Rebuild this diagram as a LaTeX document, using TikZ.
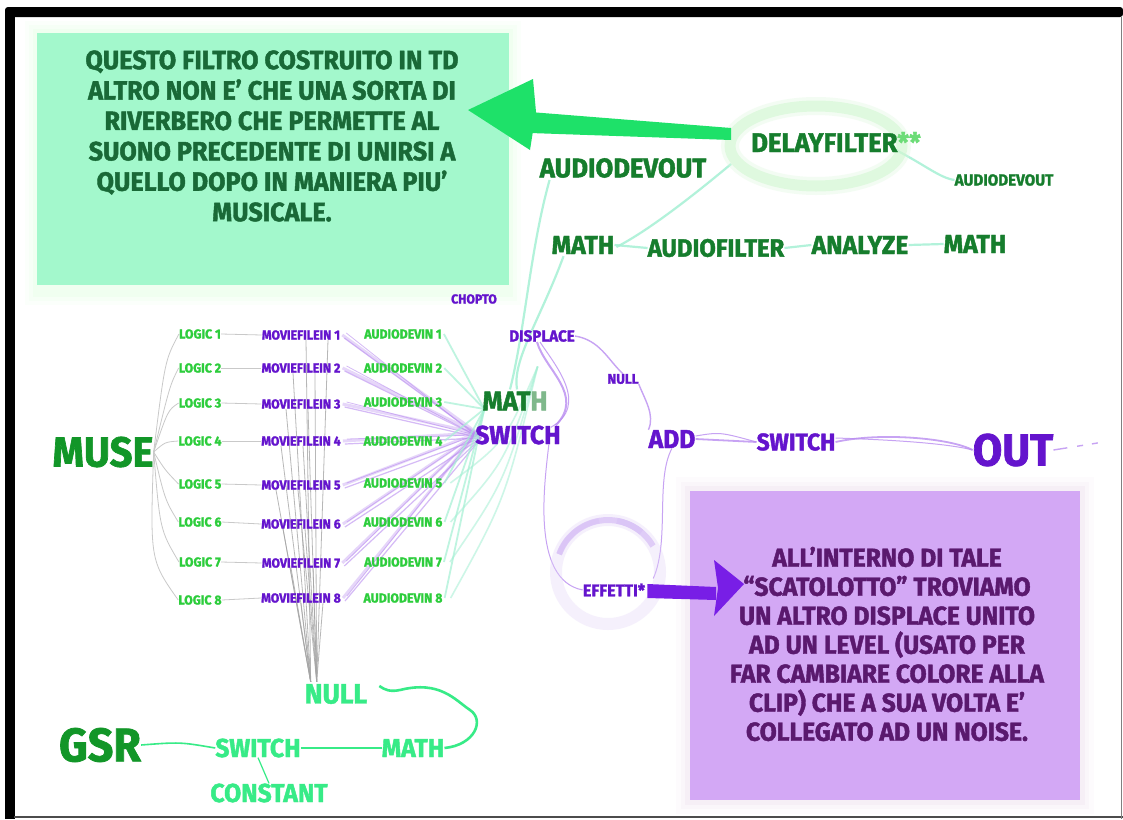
\documentclass[tikz,border=0pt]{standalone}
\usepackage{fontspec}
\newfontfamily\lab{Fira Sans}[FakeStretch=0.95, BoldFeatures={FakeBold=1.6}]
\usetikzlibrary{calc}
\pgfdeclarelayer{back}
\pgfdeclarelayer{wires}
\pgfsetlayers{back,wires,main}

\definecolor{dkgreen}{RGB}{22,125,45}
\definecolor{musegreen}{RGB}{18,150,40}
\definecolor{ltgreen}{RGB}{45,205,60}
\definecolor{mintt}{RGB}{55,235,135}
\definecolor{vio}{RGB}{100,20,205}
\definecolor{boxgreen}{RGB}{163,248,204}
\definecolor{boxvio}{RGB}{211,168,245}
\definecolor{boxtext}{RGB}{90,25,110}
\definecolor{boxgtext}{RGB}{25,105,55}
\definecolor{wiremint}{RGB}{165,240,212}
\definecolor{wirevio}{RGB}{185,140,240}
\definecolor{wiregray}{RGB}{165,165,165}
\definecolor{arrowgreen}{RGB}{30,225,105}
\definecolor{arrowvio}{RGB}{120,30,230}
\definecolor{ringgreen}{RGB}{200,245,200}
\definecolor{ringvio}{RGB}{212,186,245}

\tikzset{
  t/.style 2 args={inner sep=0pt, text=#1, font=\lab\bfseries\fontsize{#2}{#2}\selectfont},
  mintwire/.style={draw=wiremint, line width=2.2pt, opacity=0.85},
  viowire/.style={draw=wirevio, line width=1.4pt, opacity=0.8},
  graywire/.style={draw=wiregray, line width=0.8pt, opacity=0.8},
  lightgray/.style={draw=wiregray!60, line width=0.8pt},
  brightwire/.style={draw=mintt, line width=2pt},
}

\begin{document}
\begin{tikzpicture}[x=1pt,y=-1pt]
\useasboundingbox (0,0) rectangle (1123,819);

% ---------- explanatory boxes ----------
\begin{pgfonlayer}{back}
  \fill[white] (0,0) rectangle (1123,819);
  \foreach \g/\o in {12/0.04,8/0.06,4/0.08}
    \fill[green!30, opacity=\o] (37-\g,33-\g) rectangle (509+\g,285+\g+8);
  \fill[boxgreen] (37,33) rectangle (509,285);
  \foreach \g/\o in {14/0.03,9/0.05,5/0.07}
    \fill[violet!40, opacity=\o] (690-\g,491-\g) rectangle (1080+\g,800+\g);
  \fill[boxvio] (690,491) rectangle (1080,800);
\end{pgfonlayer}

\node[t={boxgtext}{26}, align=center, font=\lab\bfseries\fontsize{26.5}{30.4}\selectfont] (note1) at (272,136)
  {QUESTO FILTRO COSTRUITO IN TD\\ALTRO NON E’ CHE UNA SORTA DI\\RIVERBERO CHE PERMETTE AL\\SUONO PRECEDENTE DI UNIRSI A\\QUELLO DOPO IN MANIERA PIU’\\MUSICALE.};
\node[t={boxtext}{26}, align=center, font=\lab\bfseries\fontsize{26}{29}\selectfont] (note2) at (887,644)
  {ALL’INTERNO DI TALE\\“SCATOLOTTO” TROVIAMO\\UN ALTRO DISPLACE UNITO\\AD UN LEVEL (USATO PER\\FAR CAMBIARE COLORE ALLA\\CLIP) CHE A SUA VOLTA E’\\COLLEGATO AD UN NOISE.};

% ---------- audio chain (top) ----------
\node[t={dkgreen}{27}] (delay) at (836,142) {DELAYFILTER{\color{ltgreen!70}**}};
\node[t={dkgreen}{27}] (devoutA) at (623,168) {AUDIODEVOUT};
\node[t={dkgreen}{16}] (devoutB) at (1004,180) {AUDIODEVOUT};
\node[t={dkgreen}{26}] (mathA) at (583,245) {MATH};
\node[t={dkgreen}{25}] (afilter) at (716,248) {AUDIOFILTER};
\node[t={dkgreen}{26}] (analyze) at (860,245) {ANALYZE};
\node[t={dkgreen}{26}] (mathB) at (975,244) {MATH};

% ---------- video chain ----------
\node[t={vio}{13}] (chop) at (474,299) {CHOPTO};
\node[t={vio}{16}] (displace) at (542,336) {DISPLACE};
\node[t={vio}{14}] (nullA) at (623,379) {NULL};
\node[t={dkgreen}{27}] (mathS) at (515,401) {MAT{\color{dkgreen!55}H}};
\node[t={vio}{26}] (switchS) at (518,435) {SWITCH};
\node[t={vio}{26}] (add) at (672,439) {ADD};
\node[t={vio}{24}] (switchB) at (796,442) {SWITCH};
\node[t={vio}{45}] (out) at (1013,450) {OUT};
\node[t={vio}{17}] (effetti) at (614,590) {EFFETTI*};
\coordinate (outend) at (1110,441);

% ---------- inputs ----------
\node[t={musegreen}{42}] (muse) at (103,452) {MUSE};
\foreach \i/\yl/\ym/\ya in {1/334/335/334, 2/368/368/368, 3/403/404/402, 4/441/441/441,
                            5/484/485/483, 6/522/524/522, 7/562/563/562, 8/600/598/598} {
  \node[t={ltgreen}{13}] (logic\i) at (200,\yl) {LOGIC \i};
  \node[t={vio}{13}] (movie\i) at (301,\ym) {MOVIEFILEIN \i};
  \node[t={ltgreen}{13}] (adin\i) at (403,\ya) {AUDIODEVIN \i};
}

% ---------- GSR chain ----------
\node[t={mintt}{28}] (nullB) at (336,694) {NULL};
\node[t={musegreen}{47}] (gsr) at (100,745) {GSR};
\node[t={mintt}{26}] (switchG) at (258,748) {SWITCH};
\node[t={mintt}{26}] (mathG) at (413,748) {MATH};
\node[t={mintt}{26}] (const) at (269,793) {CONSTANT};

% ---------- connectors ----------
\begin{pgfonlayer}{wires}
  % MUSE fan-out to the logic operators
  \foreach \i/\cx/\cy in {1/165/360,2/170/385,3/168/410,4/165/442,5/165/470,6/165/500,7/160/530,8/150/560}
    \draw[lightgray] (muse.east) .. controls (\cx,\cy) .. (logic\i.west);
  % logic -> movie file in
  \foreach \i in {1,...,8}
    \draw[lightgray] (logic\i.east) -- (movie\i.west);
  % movie file in -> null (gray bundle)
  \foreach \i/\dx in {1/5,2/-8,3/-15,4/-20,5/-25,6/-18,7/-10,8/0} {
    \draw[graywire] ($(movie\i.south)+(\dx,0)$) -- ($(nullB.north west)+(6,-2)$);
    \draw[graywire] ($(movie\i.south)+(\dx+22,0)$) -- ($(nullB.north west)+(12,-2)$);
  }
  % movie file in -> switch (purple bundle)
  \foreach \i in {1,...,8} {
    \draw[viowire, line width=3pt, opacity=0.35] ($(movie\i.east)+(2,0)$) -- ($(switchS.west)+(2,-2)$);
    \draw[viowire, line width=1.2pt, opacity=0.6] ($(movie\i.east)+(4,3)$) -- ($(switchS.west)+(6,3)$);
    \draw[viowire, line width=0.8pt, opacity=0.6] ($(movie\i.east)+(6,-2)$) -- ($(switchS.west)+(0,0)$);
  }
  % audio device in -> math (mint bundle)
  \foreach \i in {1,...,8}
    \draw[mintwire, line width=1.8pt, opacity=0.7] ($(adin\i.east)+(2,0)$) -- ($(mathS.west)+(2,8)$);
  \foreach \i in {5,6,7,8}
    \draw[mintwire, line width=1.6pt, opacity=0.55] ($(adin\i.east)+(8,0)$) .. controls ($(adin\i.east)!0.5!(mathS.east)+(10,0)$) .. ($(mathS.north east)+(-10,-25)$);
  % audio chain
  \draw[mintwire] ($(devoutA.south west)+(10,2)$) .. controls (530,250) and (525,330) .. ($(mathS.north)+(-5,-2)$);
  \draw[mintwire] ($(mathA.south west)+(12,2)$) .. controls (540,320) and (512,360) .. ($(mathS.north)+(2,-2)$);
  \draw[mintwire] ($(mathA.east)+(2,2)$) .. controls (650,230) and (700,190) .. ($(delay.west)+(-20,22)$);
  \draw[mintwire] (mathA.east) -- (afilter.west);
  \draw[mintwire] (afilter.east) -- (analyze.west);
  \draw[mintwire] (analyze.east) -- (mathB.west);
  \draw[mintwire] ($(delay.east)+(-25,8)$) .. controls (925,165) and (940,178) .. (devoutB.west);
  % video chain
  \draw[viowire] (displace.east) .. controls (600,340) and (608,360) .. (nullA.north);
  \draw[viowire] (nullA.south east) .. controls (645,400) and (655,415) .. (add.north west);
  \draw[viowire, line width=2pt] ($(displace.south)+(-5,0)$) .. controls (545,370) and (585,395) .. ($(switchS.north east)+(-5,0)$);
  \draw[viowire, line width=1pt] ($(displace.south)+(-2,0)$) .. controls (555,365) and (590,405) .. ($(switchS.north east)+(-10,2)$);
  \draw[viowire, line width=1pt] ($(switchS.south east)+(-12,0)$) .. controls (545,480) and (530,580) .. (effetti.west);
  \draw[viowire, line width=1pt] ($(effetti.north east)+(8,-5)$) .. controls (670,540) and (655,480) .. (add.south);
  \draw[viowire, line width=1.8pt] (add.east) -- (switchB.west);
  \draw[viowire, line width=1pt] ($(add.east)+(0,-3)$) .. controls (720,432) .. (switchB.west);
  \draw[viowire, line width=1.8pt] (switchB.east) .. controls (880,432) and (950,438) .. (out.west);
  \draw[viowire, line width=1pt] ($(switchB.east)+(0,-4)$) .. controls (900,440) and (950,444) .. (out.west);
  \draw[viowire, dash pattern=on 14pt off 10pt on 6pt off 9pt on 6pt off 20pt] (out.east) -- (outend);
  % GSR chain
  \draw[brightwire, line width=1.6pt] (gsr.east) .. controls (180,742) .. (switchG.west);
  \draw[brightwire, line width=1.6pt] (switchG.east) -- (mathG.west);
  \draw[brightwire, line width=1.2pt] (switchG.south) -- (const.north);
  \draw[brightwire, line width=2.6pt] (mathG.east) .. controls (475,745) and (485,720) .. (470,710)
     .. controls (455,700) and (440,680) .. (400,690) .. controls (390,692) and (385,690) .. ($(nullB.east)+(12,-8)$);
\end{pgfonlayer}

% ---------- highlight rings ----------
\begin{pgfonlayer}{wires}
  \draw[ringgreen, line width=11pt, opacity=0.55] (816,146) ellipse [x radius=86, y radius=40];
  \draw[ringgreen!60, line width=18pt, opacity=0.35] (816,146) ellipse [x radius=86, y radius=40];
  \draw[ringvio, line width=6pt, opacity=0.8] (608,572) ++(200:52) arc[start angle=200, end angle=310, radius=52];
  \draw[ringvio, line width=6pt, opacity=0.8] (608,572) ++(-30:52) arc[start angle=-30, end angle=-80, radius=52];
  \draw[ringvio, line width=5pt, opacity=0.7] (608,572) ++(-100:52) arc[start angle=-100, end angle=-160, radius=52];
  \draw[ringvio!60, line width=12pt, opacity=0.35] (608,572) circle[radius=52];
\end{pgfonlayer}

% ---------- pointer arrows ----------
\fill[arrowgreen] ($(delay.west)+(-20,-14)$) -- ($(delay.west)+(-20,-2)$) -- (530,133) -- (530,112) -- cycle;
\fill[arrowgreen] (468,110) -- (533,79) -- (536,112) -- (530,150) -- cycle;
\fill[arrowvio] (effetti.east) ++(2,0) -- ++(0,-6) -- (716,587) -- (716,600) -- ($(effetti.east)+(2,8)$) -- cycle;
\fill[arrowvio] (744,584) -- (714,560) -- (718,588) -- (714,616) -- cycle;

% ---------- frame ----------
\fill[black, rounded corners=3pt] (5,7) rectangle (1123,17);
\fill[black] (5,10) rectangle (15,819);
\draw[black!70, line width=1.2pt] (14,817) -- (1123,817);
\draw[black!50, line width=1pt] (1121.5,17) -- (1121.5,819);
\end{tikzpicture}
\end{document}
